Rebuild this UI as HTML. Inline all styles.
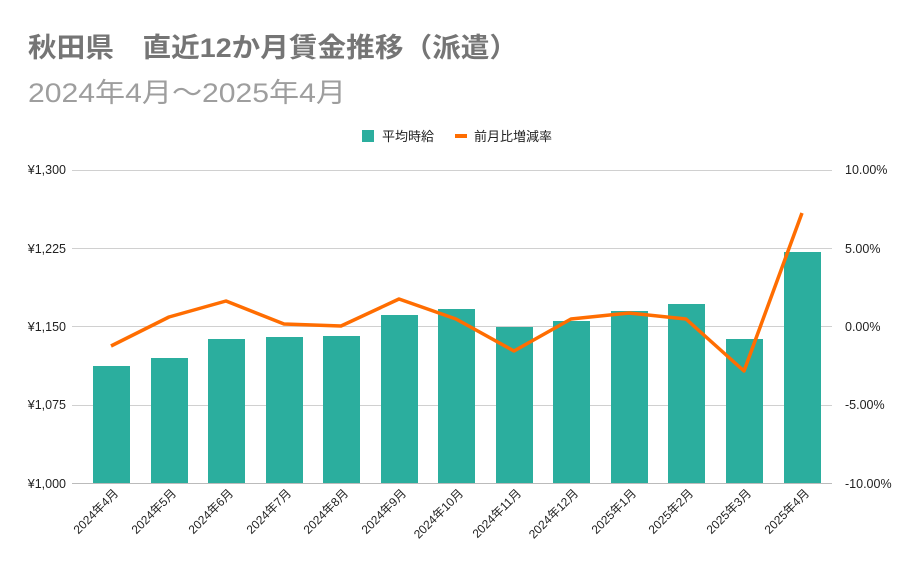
<!DOCTYPE html>
<html><head><meta charset="utf-8"><style>
body{margin:0;background:#fff;}
svg{display:block;font-family:"Liberation Sans","Noto Sans CJK JP",sans-serif;}
</style></head><body>
<svg width="921" height="570" viewBox="0 0 921 570">
<rect width="921" height="570" fill="#fff"/>
<text x="28" y="57" font-size="27" font-weight="bold" fill="#757575" textLength="490" lengthAdjust="spacingAndGlyphs">秋田県　直近12か月賃金推移（派遣）</text>
<text x="28" y="102" font-size="27" fill="#9e9e9e" textLength="318" lengthAdjust="spacingAndGlyphs">2024年4月～2025年4月</text>
<rect x="362" y="130" width="12" height="12" fill="#2bae9e"/>
<text x="382" y="141" font-size="13" fill="#222">平均時給</text>
<rect x="455" y="134" width="12" height="4" fill="#ff6d01"/>
<text x="474" y="141" font-size="13" fill="#222">前月比増減率</text>
<g stroke="#d0d0d0" stroke-width="1">
<line x1="72" y1="170.5" x2="832" y2="170.5"/>
<line x1="72" y1="248.5" x2="832" y2="248.5"/>
<line x1="72" y1="326.5" x2="832" y2="326.5"/>
<line x1="72" y1="405.5" x2="832" y2="405.5"/>
</g>
<g font-size="12.5" fill="#222" text-anchor="end">
<text x="66" y="174">¥1,300</text><text x="66" y="253">¥1,225</text><text x="66" y="331">¥1,150</text><text x="66" y="409">¥1,075</text><text x="66" y="488">¥1,000</text>
</g>
<g font-size="12.5" fill="#222">
<text x="845" y="174">10.00%</text><text x="845" y="253">5.00%</text><text x="845" y="331">0.00%</text><text x="845" y="409">-5.00%</text><text x="845" y="488">-10.00%</text>
</g>
<g fill="#2bae9e">
<rect x="93" y="366" width="37" height="117"/>
<rect x="151" y="358" width="37" height="125"/>
<rect x="208" y="339" width="37" height="144"/>
<rect x="266" y="337" width="37" height="146"/>
<rect x="323" y="336" width="37" height="147"/>
<rect x="381" y="315" width="37" height="168"/>
<rect x="438" y="309" width="37" height="174"/>
<rect x="496" y="327" width="37" height="156"/>
<rect x="553" y="321" width="37" height="162"/>
<rect x="611" y="311" width="37" height="172"/>
<rect x="668" y="304" width="37" height="179"/>
<rect x="726" y="339" width="37" height="144"/>
<rect x="784" y="252" width="37" height="231"/>
</g>
<line x1="72" y1="483.5" x2="832" y2="483.5" stroke="#bbb"/>
<polyline fill="none" stroke="#ff6d01" stroke-width="3.5" stroke-linejoin="round" points="111,346 169,317 226,301 284,324 341,326 399,299 456,319 514,351 571,319 629,313 686,319 744,371 802,213"/>
<g font-size="12" fill="#222" text-anchor="end">
<text transform="translate(119,494) rotate(-45)">2024年4月</text>
<text transform="translate(177,494) rotate(-45)">2024年5月</text>
<text transform="translate(234,494) rotate(-45)">2024年6月</text>
<text transform="translate(292,494) rotate(-45)">2024年7月</text>
<text transform="translate(349,494) rotate(-45)">2024年8月</text>
<text transform="translate(407,494) rotate(-45)">2024年9月</text>
<text transform="translate(464,494) rotate(-45)">2024年10月</text>
<text transform="translate(522,494) rotate(-45)">2024年11月</text>
<text transform="translate(579,494) rotate(-45)">2024年12月</text>
<text transform="translate(637,494) rotate(-45)">2025年1月</text>
<text transform="translate(694,494) rotate(-45)">2025年2月</text>
<text transform="translate(752,494) rotate(-45)">2025年3月</text>
<text transform="translate(810,494) rotate(-45)">2025年4月</text>
</g>
</svg>
</body></html>
